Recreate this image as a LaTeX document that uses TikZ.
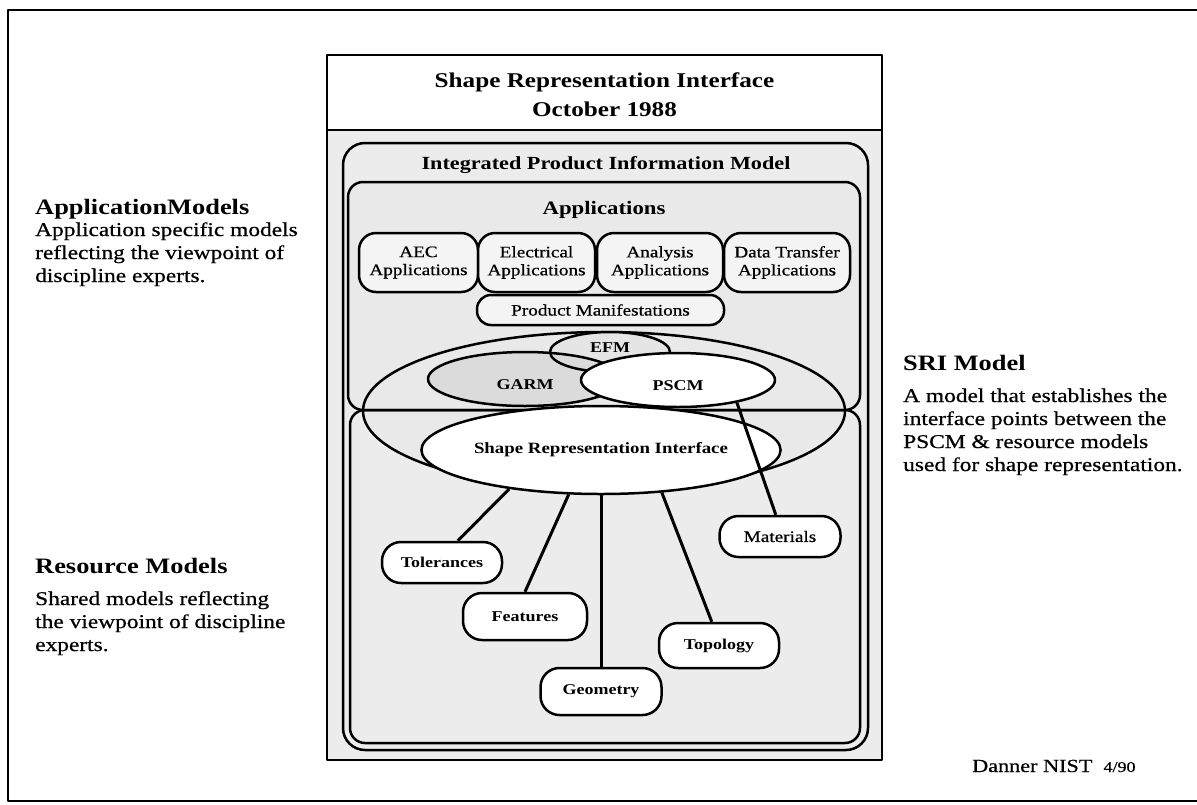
\documentclass[tikz,border=0pt]{standalone}
\usepackage{fontspec}
\setmainfont{Liberation Serif}[FakeStretch=1.2, UprightFeatures={FakeBold=0.6}]
\usetikzlibrary{shapes.geometric}

\definecolor{panel}{gray}{0.925}
\definecolor{appfill}{gray}{0.915}
\definecolor{corefill}{gray}{0.915}
\definecolor{garmfill}{gray}{0.86}
\definecolor{efmfill}{gray}{0.90}
\definecolor{cellfill}{gray}{0.955}

\newcommand\fs[2]{\fontsize{#1}{#2}\selectfont}
\newcommand\stack[2][l]{\begin{tabular}[t]{@{}#1@{}}#2\end{tabular}}

\tikzset{
  rim/.style={line width=2.5pt},
  cell/.style={draw, line width=2.5pt, rounded corners=17pt, fill=cellfill,
    inner sep=0pt, align=center, minimum height=59pt, font=\fs{16}{18}},
  pill/.style={draw, line width=2.5pt, rounded corners=14pt, fill=cellfill,
    inner sep=0pt, font=\fs{16}{18}},
  res/.style={draw, line width=2.5pt, rounded corners=19pt, fill=white,
    inner sep=0pt, font=\bfseries\fs{15}{18}},
  oval/.style={ellipse, draw, line width=2.5pt, inner sep=0pt,
    font=\bfseries\fs{15}{18}},
  link/.style={line width=3pt},
  heading/.style={anchor=base west, inner sep=0pt, font=\bfseries\fs{22}{26}},
  note/.style={anchor=base west, inner sep=0pt, font=\fs{19.5}{23}},
  lbl/.style={anchor=base, inner sep=0pt},
}

\begin{document}
\begin{tikzpicture}[x=1pt, y=-1pt, line join=round]
\useasboundingbox (0,0) rectangle (1197,804);
\fill[white] (0,0) rectangle (1197,804);

% page frame, open on the right
\draw[line width=2pt] (1197,10) -- (8,10) -- (8,801) -- (1197,801);

% main panel with its title strip
\fill[panel] (327,130) rectangle (882,760);
\draw[rim] (327,55) rectangle (882,760) (327,130) -- (882,130);
\node[lbl, font=\bfseries\fs{21}{29}] (title) at (604.5,87)
  {\stack[c]{Shape Representation Interface\\October 1988}};

% integrated product information model
\draw[rim, rounded corners=22pt, fill=panel] (343,143) rectangle (868,750);
\node[lbl, font=\bfseries\fs{18.5}{22}] (ipim) at (606,169)
  {Integrated Product Information Model};

% applications half and resource half
\fill[appfill, rounded corners=15pt] (348,182) rectangle (860,410);
\fill[panel, rounded corners=15pt] (350,410) rectangle (860,743);

% the large ellipse spanning both halves
\node[ellipse, draw, rim, fill=corefill, inner sep=0pt,
      minimum width=482pt, minimum height=158pt] (core) at (604,411) {};

\draw[rim, rounded corners=15pt] (348,182) rectangle (860,410);
\draw[rim, rounded corners=15pt] (350,410) rectangle (860,743);

\node[lbl, font=\bfseries\fs{19}{22}] (apps) at (604,214) {Applications};

% application models
\node[cell, minimum width=119pt] (aec)  at (418.5,262.5) {AEC\\Applications};
\node[cell, minimum width=117pt] (elec) at (536.5,262.5) {Electrical\\Applications};
\node[cell, minimum width=126pt] (anal) at (660,262.5)   {Analysis\\Applications};
\node[cell, minimum width=126pt] (dtr)  at (787,262.5)   {Data Transfer\\Applications};
\node[pill, minimum width=247pt, minimum height=30pt] (pm) at (600.5,310)
  {Product Manifestations};

% overlapping model ellipses
\node[oval, draw=none, fill=efmfill, minimum width=120pt, minimum height=40pt,
      text height=11pt, text depth=10pt] (efm) at (610,352) {EFM};
\node[oval, fill=garmfill, minimum width=194pt, minimum height=54pt,
      text height=21pt, text depth=0pt] (garm) at (525,379) {GARM};
\draw[rim] (efm.center) ellipse [x radius=60, y radius=20];
\node[oval, fill=white, minimum width=194pt, minimum height=54pt,
      text height=21pt, text depth=0pt] (pscm) at (678,380) {PSCM};
\node[oval, fill=white, minimum width=286pt, minimum height=88pt,
      font=\bfseries\fs{15.7}{18}] (sri) at (601,450)
  {Shape Representation Interface};

% resource models
\node[res, font=\fs{16}{18}, minimum width=121pt, minimum height=41pt] (mat) at (780,536.5) {Materials};
\node[res, minimum width=120pt, minimum height=41pt] (tol)  at (442,562.5) {Tolerances};
\node[res, minimum width=124pt, minimum height=47pt] (feat) at (525,616.5) {Features};
\node[res, minimum width=120pt, minimum height=45pt] (topo) at (719,645.5) {Topology};
\node[res, minimum width=121pt, minimum height=47pt] (geo)  at (601,691.5) {Geometry};

% links from the interface to the resources
\draw[link] (sri.203) -- (tol.54);
\draw[link] (sri.234) -- (feat.north);
\draw[link] (sri) -- (geo);
\draw[link] (sri.325) -- (topo.107);
\draw[link] (pscm.339) -- (mat.101);

% side notes
\node[heading] (amh) at (35,214) {ApplicationModels};
\node[note] (amt) at (35,236)
  {\stack{Application specific models\\reflecting the viewpoint of\\discipline experts.}};

\node[heading] (rmh) at (35,573) {Resource Models};
\node[note] (rmt) at (35,605)
  {\stack{Shared models reflecting\\the viewpoint of discipline\\experts.}};

\node[heading] (srh) at (903,370) {SRI Model};
\node[note] (srt) at (903,402)
  {\stack{A model that establishes the\\interface points between the\\PSCM \& resource models\\used for shape representation.}};

\node[anchor=base west, inner sep=0pt, font=\fs{18.5}{20}] (sig) at (972,772)
  {Danner NIST\ \ {\fs{15}{16}4/90}};
\end{tikzpicture}
\end{document}
